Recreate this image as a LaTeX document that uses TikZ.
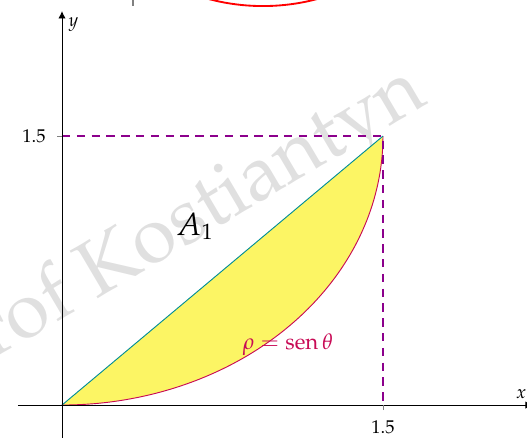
\documentclass[tikz,border=0pt]{standalone}
\usepackage[T1]{fontenc}
\usepackage{mathpazo}
\usepackage{tikz}
\usetikzlibrary{arrows.meta, positioning}
\definecolor{AreaColor}{RGB}{252,245,100}
\definecolor{CurveColor}{RGB}{200,10,85}
\definecolor{GuideColor}{RGB}{140,0,140}
\definecolor{ChordColor}{RGB}{0,140,150}

\begin{document}
\begin{tikzpicture}[
        x=4.066cm, y=3.407cm,
        axis/.style={black, line width=0.5pt},
        guide/.style={GuideColor, line width=1pt, dash pattern=on 4.5pt off 3.5pt},
        tickline/.style={gray, line width=0.5pt},
        ticklabel/.style={inner sep=2pt},
        curve/.style={CurveColor, line width=0.5pt},
        chord/.style={ChordColor, line width=0.5pt},
        watermark/.style={black!12, rotate=30.5, anchor=base, font=\fontsize{43}{43}\selectfont}
    ]
    \useasboundingbox (-0.2897,-0.1785) rectangle (2.1729,2.2588);
    \clip (-0.2897,-0.1785) rectangle (2.1729,2.2588);

    \coordinate (O) at (0,0);
    \coordinate (P) at (1.5,1.5);
    \coordinate (Py) at (0,1.5);
    \coordinate (Px) at (1.5,0);
    \coordinate (xstart) at (-0.2056,0);
    \coordinate (xtip) at (2.20,0);
    \coordinate (ystart) at (0,-0.25);
    \coordinate (ytip) at (0,2.197);

    \node[watermark] (wm) at (0.600,0.900) {Prof Kostiantyn};

    \fill[AreaColor] (O) -- (P) -- plot[domain=90:0, samples=80] ({1.5*sin(\x)},{1.5-1.5*cos(\x)}) -- cycle;
    \draw[curve] plot[domain=0:90, samples=80] ({1.5*sin(\x)},{1.5-1.5*cos(\x)});
    \draw[chord] (O) -- (P);

    \draw[guide] (Py) -- (P) -- (Px);

    \draw[axis, -{Latex[length=4pt,width=4pt]}] (xstart) -- (xtip);
    \draw[axis, -{Latex[length=4pt,width=4pt]}] (ystart) -- (ytip);
    \node[above left] (xlab) at (xtip) {$x$};
    \node[anchor=north west] (ylab) at (ytip) {$y$};

    \draw[tickline] (-0.023,1.5) coordinate (ytickL) -- (Py);
    \draw[tickline] (1.5,-0.028) coordinate (xtickB) -- (Px);
    \node[ticklabel, left=4pt of ytickL] (ytl) {1.5};
    \node[ticklabel, below=3.4pt of xtickB] (xtl) {1.5};

    \node[anchor=base] (area) at (0.621,0.948) {\LARGE $A_1$};
    \node[anchor=base, text=CurveColor] (eq) at (1.056,0.307) {\large $\rho = \mathrm{sen}\,\theta$};

    \draw[red, line width=1pt] (0.939,3.402) circle[radius=4.01cm];
    \draw[gray, line width=1pt] (0.332,2.30) -- (0.332,2.225);
\end{tikzpicture}
\end{document}
